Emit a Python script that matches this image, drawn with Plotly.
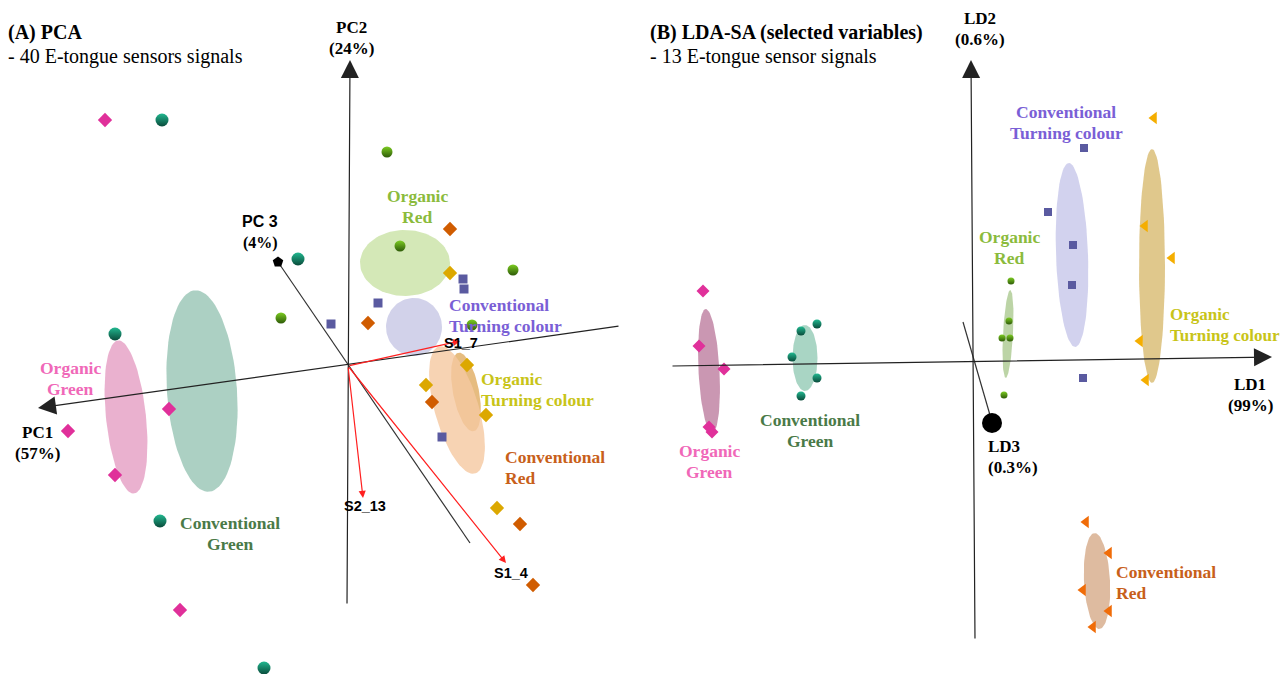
import numpy as np
import plotly.graph_objects as go

# ---------------- DATA ----------------
groups = ["Organic Green", "Conventional Green", "Organic Red",
          "Conventional Turning colour", "Organic Turning colour", "Conventional Red"]

# Panel A: PCA scores projected (PC1/PC2/PC3 view)
pca_og_x = [-243, -179, -280, -233, -168]
pca_og_y = [246, -43, -65, -109, -244]
pca_cg_x = [-186, -233, -50, -188, -84]
pca_cg_y = [246, 32, 107, -155, -302]
pca_or_x = [39, 52, 165, -67, 124]
pca_or_y = [214, 120, 96, 48, 41]
pca_ctc_x = [115, 116, 30, -17, 94]
pca_ctc_y = [87, 77, 63, 42, -71]
pca_otc_x = [102, 119, 78, 138, 149]
pca_otc_y = [93, 1, -19, -49, -142]
pca_cr_x = [102, 20, 84, 172, 185]
pca_cr_y = [137, 43, -36, -158, -219]

# PCA confidence ellipses: centre x, centre y, half-width, half-height, tilt (deg)
pca_ell_cx = [-222, -146, 57, 66, 118, 109]
pca_ell_cy = [-51, -25, 103, 39, -26, -44]
pca_ell_a = [20, 35, 45, 28, 13, 22]
pca_ell_b = [77, 101, 33, 29, 40, 66]
pca_ell_t = [6, 4, 0, 0, 11, 16]

# PCA loadings
load_names = ["S1_7", "S2_13", "S1_4"]
load_x = [112, 15, 158]
load_y = [25, -132, -197]

# Panel B: LDA scores
lda_og_x = [-270, -274, -249, -264, -261]
lda_og_y = [71, 16, -7, -65, -70]
lda_cg_x = [-156, -172, -181, -156, -172]
lda_cg_y = [38, 31, 5, -16, -34]
lda_or_x = [38, 36, 29, 37, 31]
lda_or_y = [81, 41, 24, 24, -33]
lda_ctc_x = [111, 75, 100, 99, 110]
lda_ctc_y = [214, 150, 117, 77, -16]
lda_otc_x = [181, 172, 199, 167, 173]
lda_otc_y = [244, 136, 104, 21, -18]
lda_cr_x = [113, 136, 110, 136, 120]
lda_cr_y = [-160, -191, -228, -249, -265]

lda_ell_cx = [-264, -168, 35, 99, 179, 124]
lda_ell_cy = [-9, 4, 28, 107, 96, -219]
lda_ell_a = [10.5, 12.5, 5, 16, 13, 13]
lda_ell_b = [62, 33, 44, 92, 117, 48]
lda_ell_t = [3, 0, -3, 2, 0, 3]

# ---------------- STYLE ----------------
SERIF = "Liberation Serif"
SANS = "Liberation Sans"
LBL = 17.5
LS = 21  # line spacing of two-line labels (axis units = px)
label_col = ["#f068b8", "#4a7a48", "#8bbb3c", "#7a5fd6", "#c8c418", "#c8601a"]
pca_ell_col = ["rgba(232,168,202,0.9)", "rgba(158,200,184,0.85)", "rgba(205,228,170,0.85)",
               "rgba(205,205,232,0.9)", "rgba(222,165,85,0.75)", "rgba(245,200,160,0.8)"]
lda_ell_col = ["rgba(196,140,170,0.9)", "rgba(160,208,190,0.9)", "rgba(176,204,150,0.85)",
               "rgba(205,205,236,0.9)", "rgba(218,190,120,0.85)", "rgba(218,180,150,0.9)"]

fig = go.Figure()


def ellipse(cx, cy, a, b, t, col, xa, ya):
    tt = np.linspace(0, 2 * np.pi, 90)
    th = np.deg2rad(t)
    ex = a * np.cos(tt)
    ey = b * np.sin(tt)
    x = cx + ex * np.cos(th) - ey * np.sin(th)
    y = cy + ex * np.sin(th) + ey * np.cos(th)
    fig.add_trace(go.Scatter(x=x, y=y, mode="lines", fill="toself", fillcolor=col,
                             line=dict(width=0), hoverinfo="skip", showlegend=False,
                             xaxis=xa, yaxis=ya))


def pts(x, y, symbol, color, size, xa, ya, shade=None, name=""):
    m = dict(symbol=symbol, color=color, size=size, line=dict(width=0))
    if shade:
        m["gradient"] = dict(type="vertical", color=shade)
    fig.add_trace(go.Scatter(x=x, y=y, mode="markers", marker=m, name=name,
                             showlegend=False, xaxis=xa, yaxis=ya))


def line(x, y, xa, ya, color="#333333", width=1.2):
    fig.add_trace(go.Scatter(x=x, y=y, mode="lines", line=dict(color=color, width=width),
                             hoverinfo="skip", showlegend=False, xaxis=xa, yaxis=ya))


# ---------- Panel A ----------
line([122, -70], [-177, 104], "x", "y")

for i in range(6):
    ellipse(pca_ell_cx[i], pca_ell_cy[i], pca_ell_a[i], pca_ell_b[i], pca_ell_t[i],
            pca_ell_col[i], "x", "y")

pts(pca_og_x, pca_og_y, "diamond", "#e0309a", 11, "x", "y", name=groups[0])
pts(pca_cg_x, pca_cg_y, "circle", "#22b890", 13, "x", "y", shade="#0a4a3a", name=groups[1])
pts(pca_or_x, pca_or_y, "circle", "#7ccc22", 11, "x", "y", shade="#2e5a08", name=groups[2])
pts(pca_ctc_x, pca_ctc_y, "square", "#5a5aa0", 9, "x", "y", name=groups[3])
pts(pca_otc_x, pca_otc_y, "diamond", "#dca800", 11, "x", "y", name=groups[4])
pts(pca_cr_x, pca_cr_y, "diamond", "#d05c00", 11, "x", "y", name=groups[5])

# PC3 end blob
pts([-70], [104], "pentagon", "#000000", 11, "x", "y")

# ---------- Panel B ----------
line([-10, 19], [40, -60], "x2", "y2")
for i in range(6):
    ellipse(lda_ell_cx[i], lda_ell_cy[i], lda_ell_a[i], lda_ell_b[i], lda_ell_t[i],
            lda_ell_col[i], "x2", "y2")

pts(lda_og_x, lda_og_y, "diamond", "#e0309a", 10, "x2", "y2", name=groups[0])
pts(lda_cg_x, lda_cg_y, "circle", "#22b890", 9, "x2", "y2", shade="#0a4a3a", name=groups[1])
pts(lda_or_x, lda_or_y, "circle", "#7ccc22", 7, "x2", "y2", shade="#2e5a08", name=groups[2])
pts(lda_ctc_x, lda_ctc_y, "square", "#5a5aa0", 8, "x2", "y2", name=groups[3])
pts(lda_otc_x, lda_otc_y, "triangle-left", "#f5ae00", 11, "x2", "y2", name=groups[4])
pts(lda_cr_x, lda_cr_y, "triangle-left", "#f06c08", 11, "x2", "y2", name=groups[5])
pts([19], [-61], "circle", "#000000", 20, "x2", "y2")

# ---------------- ANNOTATIONS ----------------
ann = []


def arrow(x0, y0, x1, y1, xr, yr, color="#222222", width=1.2, size=3.0):
    ann.append(dict(x=x1, y=y1, ax=x0, ay=y0, xref=xr, yref=yr, axref=xr, ayref=yr,
                    text="", showarrow=True, arrowhead=2, arrowsize=size,
                    arrowwidth=width, arrowcolor=color))


def text(x, y, s, xr, yr, color="#000000", size=LBL, family=SERIF, xanchor="center",
         bold=True, families=None):
    rows = s.split("<br>")
    n = len(rows)
    for i, r in enumerate(rows):
        fam = families[i] if families else family
        ann.append(dict(x=x, y=y + (n - 1) / 2 * LS - i * LS, xref=xr, yref=yr,
                        text=("<b>%s</b>" % r) if bold else r, showarrow=False,
                        xanchor=xanchor, yanchor="middle",
                        font=dict(family=fam, size=size, color=color)))


# Panel A axes with arrows
arrow(272, 40, -310, -42, "x", "y")
arrow(-1, -239, 2, 306, "x", "y")
# loadings
for i in range(3):
    arrow(0, 0, load_x[i], load_y[i], "x", "y", color="#ff2020", width=1.2, size=1.2)

# Panel B axes
arrow(-302, -4, 299, 5, "x2", "y2")
arrow(2, -278, -2, 302, "x2", "y2")

# Panel A texts
text(69, 160, "Organic<br>Red", "x", "y", label_col[2])
text(99, 51, "Conventional<br>Turning colour", "x", "y", label_col[3], xanchor="left")
text(131, -23, "Organic<br>Turning colour", "x", "y", label_col[4], xanchor="left")
text(155, -101, "Conventional<br>Red", "x", "y", label_col[5], xanchor="left")
text(-278, -12, "Organic<br>Green", "x", "y", label_col[0])
text(-118, -167, "Conventional<br>Green", "x", "y", label_col[1])
text(-311, -77, "PC1<br>(57%)", "x", "y", size=17)
text(3, 328, "PC2<br>(24%)", "x", "y", size=17)
text(-88, 134, "PC 3<br>(4%)", "x", "y", size=16, families=[SANS, SERIF])
text(113, 23, load_names[0], "x", "y", size=14.5, family=SANS)
text(17, -140, load_names[1], "x", "y", size=14.5, family=SANS)
text(163, -207, load_names[2], "x", "y", size=14.5, family=SANS)

# Panel B texts
text(93, 240, "Conventional<br>Turning colour", "x2", "y2", label_col[3])
text(36, 115, "Organic<br>Red", "x2", "y2", label_col[2])
text(195, 37, "Organic<br>Turning colour", "x2", "y2", label_col[4], xanchor="left", size=17)
text(-264, -99, "Organic<br>Green", "x2", "y2", label_col[0])
text(-163, -68, "Conventional<br>Green", "x2", "y2", label_col[1])
text(141, -220, "Conventional<br>Red", "x2", "y2", label_col[5], xanchor="left")
text(7, 333, "LD2<br>(0.6%)", "x2", "y2", size=17)
text(277, -33, "LD1<br>(99%)", "x2", "y2", size=17)
text(13, -95, "LD3<br>(0.3%)", "x2", "y2", size=17, xanchor="left")

# Titles
W, H = 1282, 674
for (px, py, s, b) in [(6, 33, "(A) PCA", True), (6, 57, "- 40 E-tongue sensors signals", False),
                       (648, 33, "(B) LDA-SA (selected variables)", True),
                       (648, 57, "- 13 E-tongue sensor signals", False)]:
    ann.append(dict(x=px / W, y=1 - py / H, xref="paper", yref="paper", showarrow=False,
                    xanchor="left", yanchor="middle", text=("<b>%s</b>" % s) if b else s,
                    font=dict(family=SERIF, size=20, color="#000000")))

hidden = dict(visible=False, showgrid=False, zeroline=False, fixedrange=True)
fig.update_layout(
    width=W, height=H, margin=dict(l=0, r=0, t=0, b=0),
    paper_bgcolor="white", plot_bgcolor="white",
    xaxis=dict(domain=[0, 641 / W], range=[-348, 293], **hidden),
    yaxis=dict(domain=[0, 1], range=[-308, 366], **hidden),
    xaxis2=dict(domain=[641 / W, 1], range=[-332, 309], anchor="y2", **hidden),
    yaxis2=dict(domain=[0, 1], range=[-312, 362], anchor="x2", **hidden),
    annotations=ann, showlegend=False,
)
fig.write_html("out.html", config={"displayModeBar": False},
               post_script="document.body.style.margin='0';document.body.style.overflow='hidden';")
